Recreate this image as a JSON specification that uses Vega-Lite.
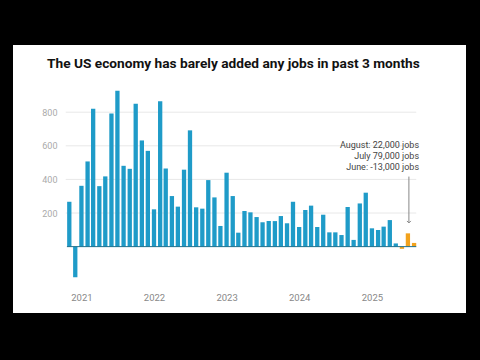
{
  "$schema": "https://vega.github.io/schema/vega-lite/v6.json",
  "width": 453,
  "height": 268,
  "autosize": {"type": "none"},
  "padding": {"left": 13, "top": 45, "right": 14, "bottom": 47},
  "background": "#000000",
  "config": {
    "view": {"fill": "#ffffff", "stroke": null},
    "font": "Roboto"
  },
  "title": {
    "text": "The US economy has barely added any jobs in past 3 months",
    "anchor": "start",
    "font": "Roboto",
    "fontSize": 13.7,
    "fontWeight": "bold",
    "color": "#111111",
    "dx": 34,
    "offset": -26
  },
  "datasets": {
    "jobs": [
      {"date": "2020-11-01", "jobs": 267},
      {"date": "2020-12-01", "jobs": -182},
      {"date": "2021-01-01", "jobs": 362},
      {"date": "2021-02-01", "jobs": 507},
      {"date": "2021-03-01", "jobs": 820},
      {"date": "2021-04-01", "jobs": 360},
      {"date": "2021-05-01", "jobs": 418},
      {"date": "2021-06-01", "jobs": 792},
      {"date": "2021-07-01", "jobs": 927},
      {"date": "2021-08-01", "jobs": 481},
      {"date": "2021-09-01", "jobs": 463},
      {"date": "2021-10-01", "jobs": 851},
      {"date": "2021-11-01", "jobs": 632},
      {"date": "2021-12-01", "jobs": 570},
      {"date": "2022-01-01", "jobs": 222},
      {"date": "2022-02-01", "jobs": 865},
      {"date": "2022-03-01", "jobs": 465},
      {"date": "2022-04-01", "jobs": 301},
      {"date": "2022-05-01", "jobs": 238},
      {"date": "2022-06-01", "jobs": 458},
      {"date": "2022-07-01", "jobs": 692},
      {"date": "2022-08-01", "jobs": 234},
      {"date": "2022-09-01", "jobs": 226},
      {"date": "2022-10-01", "jobs": 396},
      {"date": "2022-11-01", "jobs": 293},
      {"date": "2022-12-01", "jobs": 123},
      {"date": "2023-01-01", "jobs": 440},
      {"date": "2023-02-01", "jobs": 301},
      {"date": "2023-03-01", "jobs": 83},
      {"date": "2023-04-01", "jobs": 212},
      {"date": "2023-05-01", "jobs": 204},
      {"date": "2023-06-01", "jobs": 176},
      {"date": "2023-07-01", "jobs": 145},
      {"date": "2023-08-01", "jobs": 152},
      {"date": "2023-09-01", "jobs": 152},
      {"date": "2023-10-01", "jobs": 182},
      {"date": "2023-11-01", "jobs": 139},
      {"date": "2023-12-01", "jobs": 267},
      {"date": "2024-01-01", "jobs": 117},
      {"date": "2024-02-01", "jobs": 218},
      {"date": "2024-03-01", "jobs": 244},
      {"date": "2024-04-01", "jobs": 117},
      {"date": "2024-05-01", "jobs": 190},
      {"date": "2024-06-01", "jobs": 85},
      {"date": "2024-07-01", "jobs": 85},
      {"date": "2024-08-01", "jobs": 69},
      {"date": "2024-09-01", "jobs": 236},
      {"date": "2024-10-01", "jobs": 40},
      {"date": "2024-11-01", "jobs": 257},
      {"date": "2024-12-01", "jobs": 321},
      {"date": "2025-01-01", "jobs": 109},
      {"date": "2025-02-01", "jobs": 99},
      {"date": "2025-03-01", "jobs": 119},
      {"date": "2025-04-01", "jobs": 158},
      {"date": "2025-05-01", "jobs": 19},
      {"date": "2025-06-01", "jobs": -13},
      {"date": "2025-07-01", "jobs": 79},
      {"date": "2025-08-01", "jobs": 22}
    ],
    "grid": [{"v": 200}, {"v": 400}, {"v": 600}, {"v": 800}],
    "one": [{}]
  },
  "layer": [
    {
      "data": {"name": "grid"},
      "mark": {"type": "rule", "color": "#e8e8e8", "strokeWidth": 1},
      "encoding": {
        "y": {"field": "v", "type": "quantitative"},
        "x": {"datum": {"year": 2020, "month": 10, "date": 14, "utc": true}, "type": "temporal"},
        "x2": {"datum": {"year": 2025, "month": 8, "date": 12, "utc": true}}
      }
    },
    {
      "data": {"name": "jobs"},
      "mark": {"type": "bar", "size": 4.3},
      "encoding": {
        "x": {
          "field": "date",
          "type": "temporal",
          "scale": {
            "type": "utc",
            "domain": [
              {"year": 2020, "month": 2, "date": 17, "utc": true},
              {"year": 2026, "month": 3, "date": 25, "utc": true}
            ]
          },
          "axis": {
            "values": [
              {"year": 2021, "month": 1, "date": 1, "utc": true},
              {"year": 2022, "month": 1, "date": 1, "utc": true},
              {"year": 2023, "month": 1, "date": 1, "utc": true},
              {"year": 2024, "month": 1, "date": 1, "utc": true},
              {"year": 2025, "month": 1, "date": 1, "utc": true}
            ],
            "format": "%Y",
            "title": null,
            "grid": false,
            "domain": false,
            "ticks": false,
            "tickSize": 0,
            "offset": -23,
            "labelPadding": 2,
            "labelFont": "Roboto",
            "labelFontSize": 9.5,
            "labelColor": "#888888"
          }
        },
        "y": {
          "field": "jobs",
          "type": "quantitative",
          "scale": {"domain": [-395, 1200], "nice": false, "zero": false},
          "axis": {
            "values": [200, 400, 600, 800],
            "title": null,
            "grid": false,
            "domain": false,
            "ticks": false,
            "tickSize": 0,
            "offset": -46,
            "labelPadding": 2,
            "labelFont": "Roboto",
            "labelFontSize": 9,
            "labelColor": "#aaaaaa"
          }
        },
        "color": {
          "condition": {"test": "datum.date >= utc(2025, 5, 1)", "value": "#f2a21c"},
          "value": "#1f9bc8"
        }
      }
    },
    {
      "data": {"name": "one"},
      "mark": {"type": "rule", "color": "#1d6f8c", "strokeWidth": 1},
      "encoding": {
        "y": {"datum": 0, "type": "quantitative"},
        "x": {"datum": {"year": 2020, "month": 10, "date": 20, "utc": true}, "type": "temporal"},
        "x2": {"datum": {"year": 2025, "month": 8, "date": 12, "utc": true}}
      }
    },
    {
      "data": {"name": "one"},
      "mark": {"type": "rule", "color": "#888888", "strokeWidth": 1},
      "encoding": {
        "x": {"datum": {"year": 2025, "month": 7, "date": 6, "utc": true}, "type": "temporal"},
        "y": {"datum": 417, "type": "quantitative"},
        "y2": {"datum": 141}
      }
    },
    {
      "data": {"name": "one"},
      "mark": {"type": "point", "shape": "M-1,-1L0,0L1,-1", "filled": false, "color": "#888888", "strokeWidth": 1, "size": 16, "opacity": 1},
      "encoding": {
        "x": {"datum": {"year": 2025, "month": 7, "date": 6, "utc": true}, "type": "temporal"},
        "y": {"datum": 141, "type": "quantitative"}
      }
    },
    {
      "data": {"name": "one"},
      "mark": {"type": "text", "align": "right", "baseline": "top", "font": "Roboto", "fontSize": 9, "color": "#444444", "lineHeight": 10.7, "dx": 5},
      "encoding": {
        "x": {"datum": {"year": 2025, "month": 8, "date": 1, "utc": true}, "type": "temporal"},
        "y": {"datum": 626, "type": "quantitative"},
        "text": {"value": ["August: 22,000 jobs", "July 79,000 jobs", "June: -13,000 jobs"]}
      }
    }
  ]
}
